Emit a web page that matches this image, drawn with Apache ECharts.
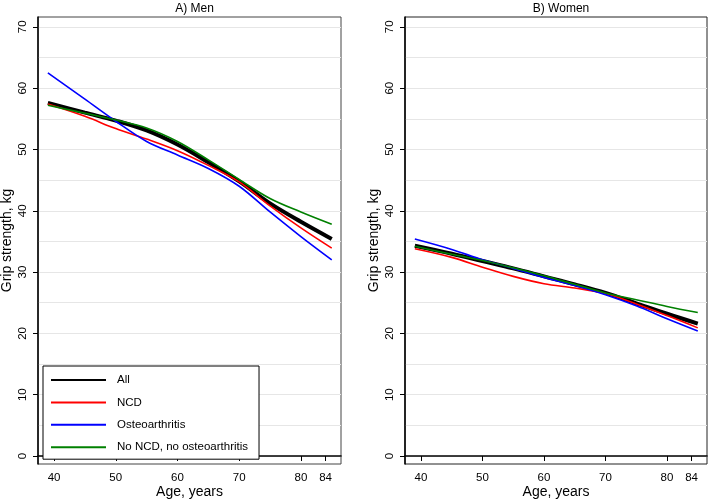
<!DOCTYPE html>
<html>
<head>
<meta charset="utf-8">
<script src="https://cdn.jsdelivr.net/npm/echarts@6/dist/echarts.min.js"></script>
<style>html,body{margin:0;padding:0;background:#fff}#c{width:708px;height:502px}</style>
</head>
<body>
<div id="c"></div>
<script>
const ages = [39, 45, 50, 55, 60, 65, 70, 75, 80, 85];
const xTicks = [40, 50, 60, 70, 80, 84];
const yTicks = [0, 10, 20, 30, 40, 50, 60, 70];
const yGrid = [0, 5, 10, 15, 20, 25, 30, 35, 40, 45, 50, 55, 60, 65, 70];
const seriesNames = ['All', 'NCD', 'Osteoarthritis', 'No NCD, no osteoarthritis'];
const panelTitles = ['A) Men', 'B) Women'];

const menAll   = [57.6, 56.0, 54.7, 53.1, 50.8, 47.9, 44.8, 41.2, 38.2, 35.4];
const menNCD   = [57.4, 55.4, 53.4, 51.7, 49.8, 47.4, 44.7, 40.8, 37.2, 33.9];
const menOA    = [62.5, 58.2, 54.6, 51.3, 49.1, 46.9, 44.0, 39.8, 35.8, 32.0];
const menNone  = [57.2, 55.9, 54.8, 53.5, 51.3, 48.3, 45.1, 42.0, 39.8, 37.8];

const womenAll  = [34.3, 33.0, 31.8, 30.6, 29.3, 28.0, 26.6, 24.9, 23.2, 21.6];
const womenNCD  = [33.8, 32.4, 30.8, 29.3, 28.1, 27.4, 26.5, 24.8, 22.9, 20.9];
const womenOA   = [35.4, 33.7, 32.0, 30.6, 29.1, 27.8, 26.3, 24.5, 22.4, 20.4];
const womenNone = [34.2, 32.9, 31.9, 30.7, 29.4, 28.0, 26.6, 25.5, 24.4, 23.4];

const colors = ['#000000', '#ff0000', '#0000ff', '#008000'];
const widths = [4, 1.6, 1.6, 1.6];
const FONT = 'Liberation Sans, Arial, sans-serif';

const panels = [[menAll, menNCD, menOA, menNone], [womenAll, womenNCD, womenOA, womenNone]];

const pairs = (vals) => ages.map((a, i) => [a, vals[i]]);

const grids = [
  {left: 38, top: 17, width: 303, height: 447, show: true, borderColor: '#444', borderWidth: 1, outerBoundsMode: 'none', containLabel: false},
  {left: 405, top: 17, width: 302, height: 447, show: true, borderColor: '#222', borderWidth: 1, outerBoundsMode: 'none', containLabel: false}
];

const xAxes = [0, 1].map(g => ({
  type: 'value', gridIndex: g, min: 37.4, max: 86.5,
  name: 'Age, years', nameLocation: 'middle', nameGap: 21, nameMoveOverlap: false,
  nameTextStyle: {fontFamily: FONT, fontSize: 14, color: '#000'},
  axisLine: {show: true, lineStyle: {color: '#000', width: 1.5}},
  axisTick: {show: true, length: 5, customValues: xTicks, lineStyle: {color: '#000'}},
  axisLabel: {customValues: xTicks, fontFamily: FONT, fontSize: 11.5, color: '#000', margin: 8},
  splitLine: {show: false}
}));

const yAxes = [];
[0, 1].forEach(g => {
  yAxes.push({
    type: 'value', gridIndex: g, min: -1.3, max: 71.6,
    name: 'Grip strength, kg', nameLocation: 'middle', nameGap: 24, nameRotate: 90,
    nameTextStyle: {fontFamily: FONT, fontSize: 14, color: '#000'},
    axisLine: {show: true, lineStyle: {color: '#000', width: 1.5}},
    axisTick: {show: true, length: 5, customValues: yTicks, lineStyle: {color: '#000'}},
    axisLabel: {customValues: yTicks, rotate: 90, fontFamily: FONT, fontSize: 11.5, color: '#000', margin: 9},
    splitLine: {show: false}
  });
  yAxes.push({
    type: 'value', gridIndex: g, min: -1.3, max: 71.6, position: 'left',
    axisLine: {show: false},
    axisTick: {show: false, customValues: yGrid},
    axisLabel: {show: false, customValues: yGrid},
    splitLine: {show: true, lineStyle: {color: '#e6e6e6', width: 1}}
  });
});

const series = [];
panels.forEach((arrs, p) => {
  arrs.forEach((vals, i) => {
    series.push({
      name: seriesNames[i], type: 'line', xAxisIndex: p, yAxisIndex: p * 2,
      data: pairs(vals), smooth: 0.35, showSymbol: false, symbol: 'none',
      lineStyle: {color: colors[i], width: widths[i]}, itemStyle: {color: colors[i]},
      z: 3, silent: true
    });
  });
});

const chart = echarts.init(document.getElementById('c'), null, {renderer: 'canvas'});
chart.setOption({
  animation: false,
  backgroundColor: '#fff',
  title: [
    {text: panelTitles[0], left: 189.5, top: -2, textAlign: 'center', textStyle: {fontFamily: FONT, fontSize: 12, fontWeight: 'normal', color: '#000'}},
    {text: panelTitles[1], left: 556, top: -2, textAlign: 'center', textStyle: {fontFamily: FONT, fontSize: 12, fontWeight: 'normal', color: '#000'}}
  ],
  legend: {
    data: seriesNames, orient: 'vertical', left: 43, top: 366,
    itemWidth: 55, itemHeight: 14, itemGap: 10.4,
    padding: [8, 11, 6, 7], borderColor: '#000', borderWidth: 1, backgroundColor: '#fff',
    itemStyle: {color: 'rgba(0,0,0,0)', borderColor: 'rgba(0,0,0,0)', borderWidth: 0},
    textStyle: {fontFamily: FONT, fontSize: 11.5, color: '#000', padding: [0, 0, 0, 6]},
    selectedMode: false
  },
  grid: grids,
  xAxis: xAxes,
  yAxis: yAxes,
  series: series
});
</script>
</body>
</html>
